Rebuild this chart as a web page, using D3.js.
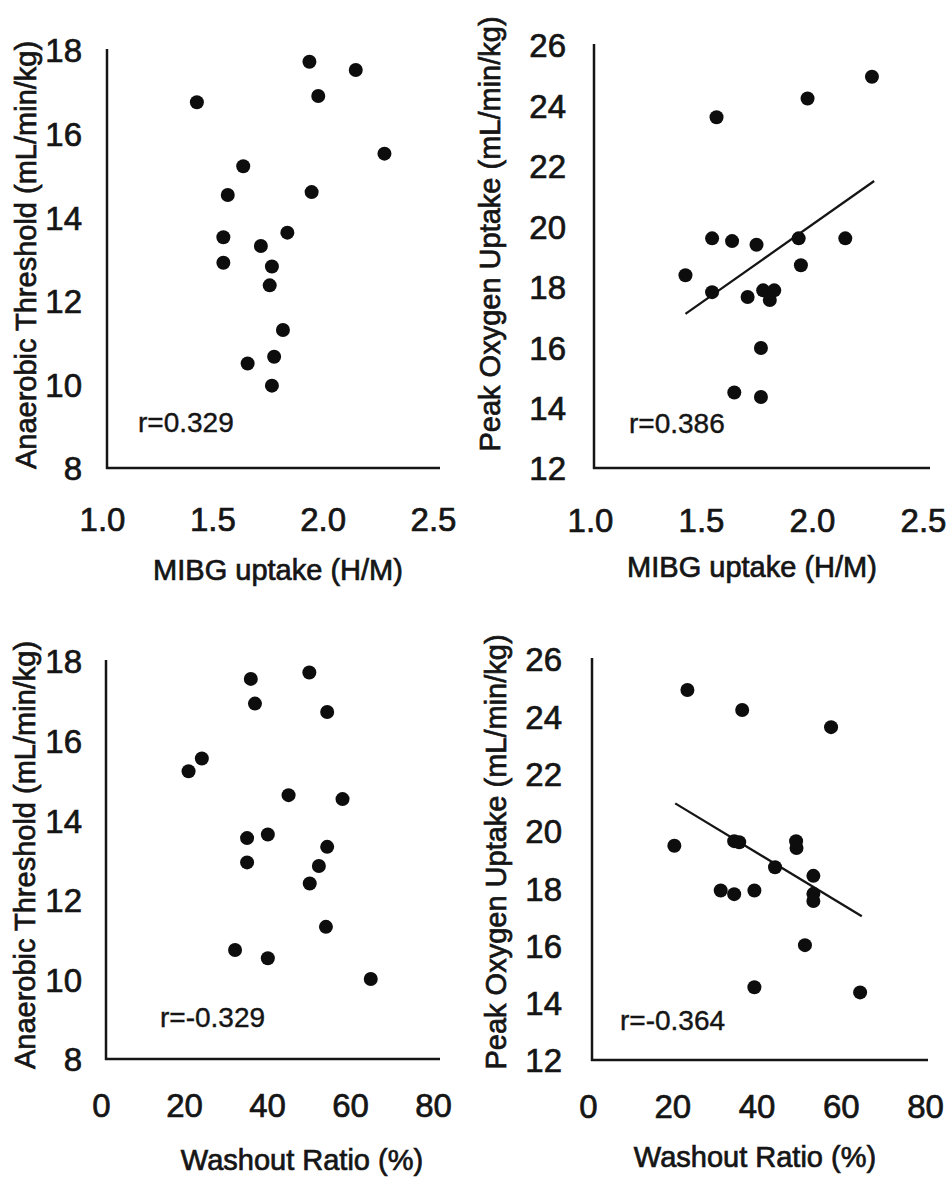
<!DOCTYPE html>
<html>
<head>
<meta charset="utf-8">
<script src="https://cdn.jsdelivr.net/npm/d3@7/dist/d3.min.js"></script>
<style>
  html, body { margin: 0; padding: 0; background: #fff; }
  svg { display: block; font-family: "Liberation Sans", Arial, Helvetica, sans-serif; }
  .lbl { stroke: #151515; stroke-width: 0.7px; paint-order: stroke; }
</style>
</head>
<body>
<svg id="chart" width="948" height="1179"></svg>
<script>
// ---- Data ----
// MIBG uptake (H/M) vs anaerobic threshold
const mibgUptakeAT = [1.43, 1.94, 2.15, 1.98, 2.28, 1.64, 1.57, 1.95, 1.55, 1.84, 1.72, 1.55, 1.77, 1.76, 1.82, 1.78, 1.66, 1.77];
const anaerobicThresholdM = [16.75, 17.72, 17.52, 16.9, 15.52, 15.22, 14.53, 14.6, 13.52, 13.63, 13.31, 12.91, 12.82, 12.37, 11.3, 10.66, 10.5, 9.97];

// MIBG uptake (H/M) vs peak oxygen uptake
const mibgUptakeVO2 = [2.27, 1.98, 1.57, 1.55, 1.64, 1.75, 1.94, 2.15, 1.95, 1.43, 1.55, 1.71, 1.78, 1.83, 1.81, 1.77, 1.65, 1.77];
const peakVO2M = [24.95, 24.23, 23.61, 19.6, 19.51, 19.39, 19.6, 19.6, 18.71, 18.38, 17.82, 17.66, 17.88, 17.88, 17.56, 15.97, 14.5, 14.35];
const fitVO2M_x = [1.43, 2.28];
const fitVO2M_y = [17.1, 21.5];

// Washout ratio (%) vs anaerobic threshold
const washoutAT = [36.1, 50.2, 37.1, 54.5, 24.3, 21.1, 45.2, 58.2, 35.2, 40.2, 54.5, 35.2, 52.5, 50.3, 54.2, 32.3, 40.2, 65.0];
const anaerobicThresholdW = [17.55, 17.71, 16.93, 16.72, 15.55, 15.23, 14.63, 14.53, 13.55, 13.64, 13.33, 12.94, 12.85, 12.41, 11.32, 10.74, 10.53, 10.01];

// Washout ratio (%) vs peak oxygen uptake
const washoutVO2 = [23.6, 36.6, 57.7, 20.5, 34.7, 35.9, 49.4, 49.5, 44.4, 53.5, 53.5, 53.5, 31.5, 34.7, 39.5, 51.5, 39.5, 64.6];
const peakVO2W = [24.92, 24.22, 23.62, 19.48, 19.64, 19.6, 19.64, 19.4, 18.73, 18.43, 17.8, 17.55, 17.92, 17.79, 17.92, 16.01, 14.54, 14.36];
const fitVO2W_x = [20.7, 65.0];
const fitVO2W_y = [20.96, 17.02];

// Tick values and labels
const mibgTicks = [1.0, 1.5, 2.0, 2.5];
const washoutTicks = [0, 20, 40, 60, 80];
const atTicks = [8, 10, 12, 14, 16, 18];
const vo2Ticks = [12, 14, 16, 18, 20, 22, 24, 26];
const rLabels = ["r=0.329", "r=0.386", "r=-0.329", "r=-0.364"];
const xTitles = ["MIBG uptake (H/M)", "MIBG uptake (H/M)", "Washout Ratio (%)", "Washout Ratio (%)"];
const yTitles = ["Anaerobic Threshold (mL/min/kg)", "Peak Oxygen Uptake (mL/min/kg)",
                 "Anaerobic Threshold (mL/min/kg)", "Peak Oxygen Uptake (mL/min/kg)"];

// ---- Panel definitions ----
const panels = [
  { xs: mibgUptakeAT, ys: anaerobicThresholdM, xDomain: [1.0, 2.5], yDomain: [8, 18],
    xTicks: mibgTicks, yTicks: atTicks, xFmt: d3.format(".1f"), fit: null,
    xRange: [102, 433], yRange: [468, 50], axX0: 107, axX1: 440,
    yTickX: 82, xTickBase: 531, rPos: [138, 432], xTitlePos: [278, 580], yTitlePos: [36, 255] },
  { xs: mibgUptakeVO2, ys: peakVO2M, xDomain: [1.0, 2.5], yDomain: [12, 26],
    xTicks: mibgTicks, yTicks: vo2Ticks, xFmt: d3.format(".1f"), fit: [fitVO2M_x, fitVO2M_y],
    xRange: [590, 923], yRange: [468, 45], axX0: 594, axX1: 930,
    yTickX: 566, xTickBase: 532, rPos: [629, 433], xTitlePos: [752, 577], yTitlePos: [500, 234] },
  { xs: washoutAT, ys: anaerobicThresholdW, xDomain: [0, 80], yDomain: [8, 18],
    xTicks: washoutTicks, yTicks: atTicks, xFmt: d3.format("d"), fit: null,
    xRange: [101, 433], yRange: [1059, 661], axX0: 106, axX1: 440,
    yTickX: 82, xTickBase: 1117, rPos: [160, 1027], xTitlePos: [302, 1170], yTitlePos: [35, 855] },
  { xs: washoutVO2, ys: peakVO2W, xDomain: [0, 80], yDomain: [12, 26],
    xTicks: washoutTicks, yTicks: vo2Ticks, xFmt: d3.format("d"), fit: [fitVO2W_x, fitVO2W_y],
    xRange: [588, 925], yRange: [1060, 659], axX0: 592, axX1: 928,
    yTickX: 562, xTickBase: 1118, rPos: [620, 1030], xTitlePos: [755, 1167], yTitlePos: [506, 852] }
];

const ink = "#151515";
const svg = d3.select("#chart");

panels.forEach((p, i) => {
  const x = d3.scaleLinear().domain(p.xDomain).range(p.xRange);
  const y = d3.scaleLinear().domain(p.yDomain).range(p.yRange);
  const g = svg.append("g").attr("class", "panel");

  // Axis lines (L-shaped frame)
  const yBottom = y(p.yDomain[0]);
  const yTop = y(p.yDomain[1]);
  g.append("line")
    .attr("x1", p.axX0).attr("x2", p.axX0)
    .attr("y1", yTop - 1).attr("y2", yBottom + 1)
    .attr("stroke", ink).attr("stroke-width", 2.5);
  g.append("line")
    .attr("x1", p.axX0 - 1).attr("x2", p.axX1)
    .attr("y1", yBottom).attr("y2", yBottom)
    .attr("stroke", ink).attr("stroke-width", 2.5);

  // Y tick labels
  const yAxis = d3.axisLeft(y).tickValues(p.yTicks).tickSize(0).tickPadding(0).tickFormat(d3.format("d"));
  const gy = g.append("g").attr("transform", `translate(${p.yTickX},0)`).call(yAxis);
  gy.select(".domain").remove();
  gy.selectAll("text")
    .attr("class", "lbl")
    .attr("x", 0).attr("dy", "0.36em")
    .attr("fill", ink)
    .style("font-size", "33px")
    .style("font-family", "'Liberation Sans', Arial, sans-serif");

  // X tick labels
  const xAxis = d3.axisBottom(x).tickValues(p.xTicks).tickSize(0).tickPadding(0).tickFormat(p.xFmt);
  const gx = g.append("g").attr("transform", `translate(0,${p.xTickBase})`).call(xAxis);
  gx.select(".domain").remove();
  gx.selectAll("text")
    .attr("class", "lbl")
    .attr("y", 0).attr("dy", 0)
    .attr("fill", ink)
    .style("font-size", "33px")
    .style("font-family", "'Liberation Sans', Arial, sans-serif");

  // Regression line
  if (p.fit) {
    const pts = p.fit[0].map((v, k) => [v, p.fit[1][k]]);
    g.append("path")
      .attr("d", d3.line().x(d => x(d[0])).y(d => y(d[1]))(pts))
      .attr("fill", "none")
      .attr("stroke", ink)
      .attr("stroke-width", 2.3);
  }

  // Data points
  g.selectAll("circle.pt")
    .data(p.xs.map((v, k) => [v, p.ys[k]]))
    .join("circle")
    .attr("class", "pt")
    .attr("cx", d => x(d[0]))
    .attr("cy", d => y(d[1]))
    .attr("r", 7)
    .attr("fill", "#0d0d0d");

  // Correlation label
  g.append("text")
    .attr("class", "lbl")
    .attr("x", p.rPos[0]).attr("y", p.rPos[1])
    .attr("fill", ink)
    .style("font-size", "28px")
    .style("stroke-width", "0.4px")
    .text(rLabels[i]);

  // Axis titles
  g.append("text")
    .attr("class", "lbl")
    .attr("x", p.xTitlePos[0]).attr("y", p.xTitlePos[1])
    .attr("text-anchor", "middle")
    .attr("fill", ink)
    .style("font-size", "29px")
    .text(xTitles[i]);

  g.append("text")
    .attr("class", "lbl")
    .attr("transform", `translate(${p.yTitlePos[0]},${p.yTitlePos[1]}) rotate(-90)`)
    .attr("text-anchor", "middle")
    .attr("fill", ink)
    .style("font-size", "29px")
    .text(yTitles[i]);
});
</script>
</body>
</html>
